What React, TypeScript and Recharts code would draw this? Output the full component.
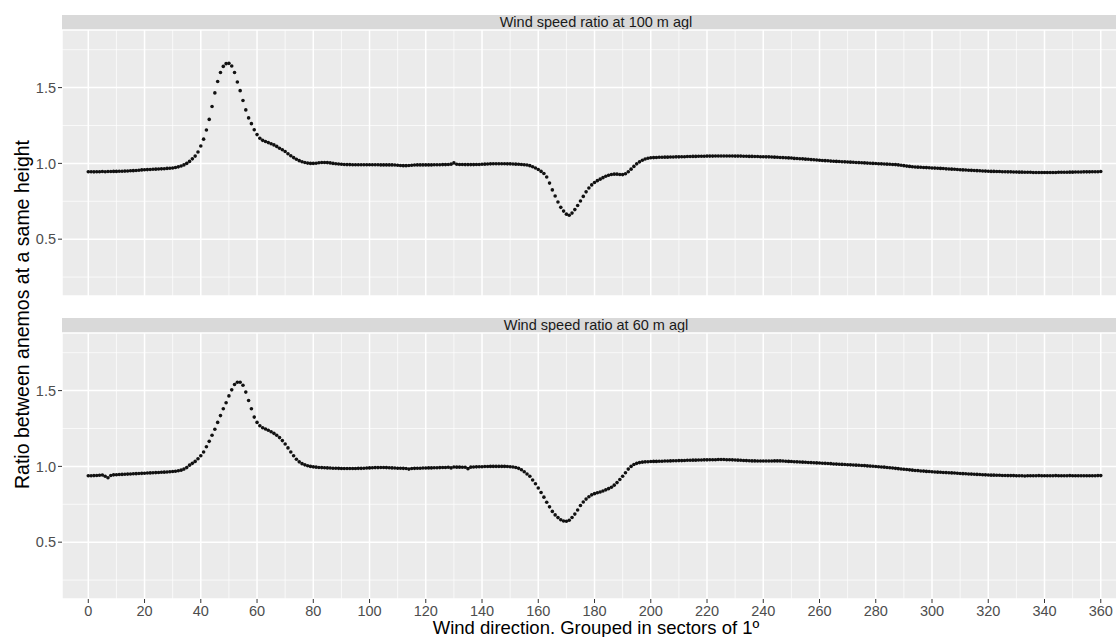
import React from 'react';
import { CartesianGrid, ReferenceLine, Scatter, ScatterChart, XAxis, YAxis } from 'recharts';

// Ratio between the two anemometers, one value per 1º sector (0..360)
const ratio100m = [
  0.945, 0.945, 0.944, 0.945, 0.945, 0.946, 0.945, 0.946, 0.946, 0.947,
  0.947, 0.948, 0.948, 0.949, 0.950, 0.951, 0.952, 0.953, 0.955, 0.957,
  0.958, 0.959, 0.960, 0.961, 0.962, 0.963, 0.964, 0.965, 0.967, 0.968,
  0.970, 0.973, 0.977, 0.983, 0.990, 1.000, 1.013, 1.030, 1.048, 1.075,
  1.115, 1.160, 1.220, 1.290, 1.375, 1.465, 1.540, 1.600, 1.640, 1.658,
  1.660, 1.642, 1.600, 1.537, 1.480, 1.415, 1.353, 1.300, 1.262, 1.222,
  1.190, 1.166, 1.152, 1.144, 1.137, 1.130, 1.122, 1.112, 1.100, 1.090,
  1.078, 1.064, 1.050, 1.038, 1.027, 1.018, 1.011, 1.006, 1.002, 1.000,
  1.000, 1.001, 1.004, 1.006, 1.006, 1.005, 1.003, 1.000, 0.998, 0.996,
  0.994, 0.993, 0.992, 0.992, 0.991, 0.991, 0.991, 0.991, 0.991, 0.991,
  0.991, 0.991, 0.991, 0.991, 0.990, 0.990, 0.990, 0.990, 0.990, 0.989,
  0.988, 0.986, 0.985, 0.985, 0.986, 0.988, 0.989, 0.990, 0.990, 0.990,
  0.990, 0.990, 0.990, 0.991, 0.991, 0.991, 0.992, 0.992, 0.993, 0.995,
  1.003, 0.994, 0.993, 0.993, 0.992, 0.992, 0.992, 0.992, 0.993, 0.993,
  0.994, 0.995, 0.996, 0.997, 0.998, 0.998, 0.998, 0.998, 0.998, 0.997,
  0.997, 0.996, 0.995, 0.994, 0.993, 0.991, 0.989, 0.985, 0.978, 0.970,
  0.960, 0.947, 0.933, 0.910, 0.870, 0.825, 0.785, 0.745, 0.710, 0.685,
  0.665, 0.658, 0.672, 0.695, 0.722, 0.752, 0.782, 0.812, 0.838, 0.858,
  0.874, 0.886, 0.896, 0.906, 0.915, 0.922, 0.927, 0.929, 0.929, 0.927,
  0.926, 0.932, 0.945, 0.962, 0.980, 0.997, 1.010, 1.021, 1.029, 1.034,
  1.037, 1.038, 1.039, 1.040, 1.040, 1.041, 1.041, 1.042, 1.042, 1.043,
  1.043, 1.044, 1.044, 1.045, 1.045, 1.046, 1.046, 1.047, 1.047, 1.047,
  1.048, 1.048, 1.048, 1.049, 1.049, 1.049, 1.049, 1.049, 1.049, 1.049,
  1.048, 1.048, 1.048, 1.047, 1.047, 1.046, 1.046, 1.045, 1.045, 1.044,
  1.044, 1.043, 1.043, 1.042, 1.041, 1.040, 1.039, 1.038, 1.037, 1.036,
  1.035, 1.033, 1.032, 1.031, 1.030, 1.028, 1.027, 1.025, 1.024, 1.022,
  1.021, 1.019, 1.018, 1.017, 1.015, 1.014, 1.013, 1.012, 1.011, 1.010,
  1.009, 1.008, 1.007, 1.006, 1.005, 1.004, 1.003, 1.002, 1.001, 1.000,
  0.999, 0.998, 0.997, 0.996, 0.995, 0.994, 0.993, 0.992, 0.990, 0.988,
  0.985, 0.982, 0.980, 0.978, 0.976, 0.975, 0.974, 0.973, 0.972, 0.971,
  0.970, 0.969, 0.968, 0.967, 0.966, 0.964, 0.963, 0.962, 0.961, 0.960,
  0.958, 0.957, 0.956, 0.955, 0.954, 0.953, 0.952, 0.951, 0.950, 0.949,
  0.948, 0.947, 0.947, 0.946, 0.946, 0.945, 0.945, 0.944, 0.944, 0.943,
  0.943, 0.942, 0.942, 0.941, 0.941, 0.941, 0.940, 0.940, 0.940, 0.940,
  0.940, 0.940, 0.940, 0.940, 0.940, 0.941, 0.941, 0.941, 0.941, 0.942,
  0.942, 0.943, 0.943, 0.943, 0.944, 0.944, 0.944, 0.945, 0.945, 0.945, 0.946,
];

const ratio60m = [
  0.938, 0.938, 0.939, 0.940, 0.941, 0.943, 0.935, 0.925, 0.940, 0.944,
  0.945, 0.946, 0.947, 0.948, 0.949, 0.950, 0.951, 0.952, 0.953, 0.954,
  0.955, 0.956, 0.957, 0.958, 0.959, 0.960, 0.961, 0.962, 0.963, 0.965,
  0.966, 0.968, 0.971, 0.975, 0.982, 0.992, 1.008, 1.020, 1.033, 1.050,
  1.070, 1.095, 1.130, 1.165, 1.205, 1.245, 1.290, 1.335, 1.380, 1.420,
  1.465, 1.505, 1.540, 1.555, 1.555, 1.535, 1.490, 1.435, 1.380, 1.325,
  1.290, 1.268, 1.255, 1.247, 1.238, 1.228, 1.218, 1.205, 1.190, 1.170,
  1.148, 1.122, 1.095, 1.070, 1.047, 1.030, 1.018, 1.010, 1.004, 1.000,
  0.997, 0.995, 0.993, 0.992, 0.991, 0.990, 0.989, 0.988, 0.988, 0.987,
  0.986, 0.986, 0.986, 0.986, 0.986, 0.986, 0.987, 0.987, 0.988, 0.989,
  0.990, 0.991, 0.992, 0.992, 0.993, 0.993, 0.992, 0.991, 0.990, 0.989,
  0.988, 0.988, 0.987, 0.986, 0.982, 0.986, 0.987, 0.988, 0.988, 0.989,
  0.989, 0.990, 0.990, 0.991, 0.991, 0.992, 0.993, 0.993, 0.994, 0.990,
  0.996, 0.995, 0.995, 0.994, 0.994, 0.985, 0.995, 0.996, 0.997, 0.998,
  0.998, 0.999, 0.999, 1.000, 1.000, 1.000, 1.000, 1.000, 1.000, 0.999,
  0.998, 0.996, 0.993, 0.987, 0.978, 0.965, 0.950, 0.935, 0.910, 0.885,
  0.857, 0.828, 0.797, 0.763, 0.733, 0.703, 0.680, 0.662, 0.648, 0.640,
  0.638, 0.645, 0.663, 0.685, 0.712, 0.742, 0.765, 0.784, 0.800, 0.812,
  0.820, 0.826, 0.831, 0.838, 0.845, 0.853, 0.862, 0.876, 0.893, 0.913,
  0.935, 0.958, 0.982, 1.000, 1.012, 1.020, 1.025, 1.028, 1.030, 1.031,
  1.032, 1.033, 1.033, 1.034, 1.034, 1.035, 1.035, 1.036, 1.037, 1.037,
  1.038, 1.038, 1.039, 1.040, 1.040, 1.041, 1.041, 1.042, 1.042, 1.043,
  1.043, 1.044, 1.044, 1.044, 1.045, 1.045, 1.045, 1.044, 1.044, 1.043,
  1.042, 1.041, 1.040, 1.039, 1.038, 1.037, 1.036, 1.036, 1.035, 1.035,
  1.035, 1.035, 1.035, 1.035, 1.036, 1.036, 1.036, 1.035, 1.034, 1.033,
  1.032, 1.031, 1.030, 1.029, 1.028, 1.027, 1.026, 1.025, 1.024, 1.023,
  1.022, 1.021, 1.020, 1.019, 1.018, 1.016, 1.015, 1.014, 1.013, 1.012,
  1.011, 1.010, 1.009, 1.008, 1.007, 1.006, 1.005, 1.003, 1.002, 1.001,
  0.999, 0.998, 0.996, 0.995, 0.993, 0.991, 0.989, 0.987, 0.985, 0.983,
  0.981, 0.979, 0.977, 0.975, 0.973, 0.972, 0.970, 0.969, 0.967, 0.966,
  0.965, 0.963, 0.962, 0.961, 0.960, 0.959, 0.958, 0.957, 0.956, 0.955,
  0.953, 0.952, 0.951, 0.950, 0.949, 0.948, 0.947, 0.946, 0.945, 0.944,
  0.943, 0.942, 0.942, 0.941, 0.941, 0.940, 0.940, 0.939, 0.939, 0.939,
  0.938, 0.938, 0.938, 0.937, 0.938, 0.938, 0.938, 0.938, 0.939, 0.938,
  0.938, 0.938, 0.938, 0.938, 0.939, 0.938, 0.938, 0.938, 0.938, 0.939,
  0.938, 0.938, 0.938, 0.938, 0.938, 0.938, 0.938, 0.938, 0.938, 0.939, 0.939,
];

const sectorTicks = [0, 20, 40, 60, 80, 100, 120, 140, 160, 180, 200, 220, 240, 260, 280, 300, 320, 340, 360];
const sectorMinor = [10, 30, 50, 70, 90, 110, 130, 150, 170, 190, 210, 230, 250, 270, 290, 310, 330, 350];
const ratioTicks = [0.5, 1.0, 1.5];
const ratioMinor = [0.25, 0.75, 1.25, 1.75];

const FONT = '"Liberation Sans", Arial, Helvetica, sans-serif';
const CHART_W = 1130;
const AXIS_W = 62;
const X_DOMAIN: [number, number] = [-9.35, 370.4];
const Y_DOMAIN: [number, number] = [0.125, 1.88];

const toPoints = (values: number[]) => values.map((ratio, sector) => ({ sector, ratio }));

const Dot = (props: any) => <circle cx={props.cx} cy={props.cy} r={1.8} fill="#111" />;

interface PanelProps {
  title: string;
  values: number[];
  top: number;
  height: number;
  stripTop: number;
  marginTop: number;
  showX: boolean;
}

const Panel: React.FC<PanelProps> = ({ title, values, top, height, stripTop, marginTop, showX }) => (
  <>
    <div
      style={{
        position: 'absolute', top: stripTop, left: AXIS_W, width: CHART_W - AXIS_W, height: 15,
        background: '#d9d9d9', color: '#1a1a1a', fontSize: 14.5, lineHeight: '15px', textAlign: 'center',
      }}
    >
      {title}
    </div>
    <div style={{ position: 'absolute', top, left: 0 }}>
      <ScatterChart width={CHART_W} height={height} margin={{ top: marginTop, right: 0, bottom: showX ? 0 : 4, left: 0 }}>
        <CartesianGrid fill="#ebebeb" stroke="#ffffff" strokeWidth={1.5} />
        {sectorMinor.map((v) => (
          <ReferenceLine key={`x${v}`} x={v} stroke="#ffffff" strokeWidth={0.7} />
        ))}
        {ratioMinor.map((v) => (
          <ReferenceLine key={`y${v}`} y={v} stroke="#ffffff" strokeWidth={0.7} />
        ))}
        <XAxis
          dataKey="sector"
          type="number"
          domain={X_DOMAIN}
          ticks={sectorTicks}
          allowDataOverflow
          hide={!showX}
          height={showX ? 38 : 0}
          axisLine={false}
          tickSize={4}
          tickMargin={3}
          tickLine={{ stroke: '#333333' }}
          tick={{ fill: '#4d4d4d', fontSize: 14.5, fontFamily: FONT }}
          interval={0}
        />
        <YAxis
          dataKey="ratio"
          type="number"
          domain={Y_DOMAIN}
          ticks={ratioTicks}
          allowDataOverflow
          width={AXIS_W}
          axisLine={false}
          tickSize={4}
          tickMargin={2}
          tickLine={{ stroke: '#333333' }}
          tick={{ fill: '#4d4d4d', fontSize: 14.5, fontFamily: FONT }}
          tickFormatter={(v: number) => v.toFixed(1)}
        />
        <Scatter data={toPoints(values)} dataKey="ratio" shape={Dot} isAnimationActive={false} />
      </ScatterChart>
    </div>
  </>
);

export default function App() {
  return (
    <div
      style={{
        position: 'absolute', top: 0, left: 0, width: 1116, height: 637, overflow: 'hidden',
        background: '#ffffff', fontFamily: FONT,
      }}
    >
      <Panel title="Wind speed ratio at 100 m agl" values={ratio100m} top={0} height={300} stripTop={15} marginTop={30} showX={false} />
      <Panel title="Wind speed ratio at 60 m agl" values={ratio60m} top={300} height={337} stripTop={318} marginTop={33} showX />
      <div
        style={{
          position: 'absolute', top: 620, left: AXIS_W, width: CHART_W - AXIS_W, textAlign: 'center',
          fontSize: 18.5, lineHeight: '16px', color: '#000',
        }}
      >
        Wind direction. Grouped in sectors of 1º
      </div>
      <div style={{ position: 'absolute', top: 314, left: 22, width: 0, height: 0 }}>
        <div
          style={{
            position: 'absolute', left: -200, top: -9.5, width: 400, textAlign: 'center',
            fontSize: 19.5, lineHeight: '19px', color: '#000', whiteSpace: 'nowrap',
            transform: 'rotate(-90deg)',
          }}
        >
          Ratio between anemos at a same height
        </div>
      </div>
    </div>
  );
}
